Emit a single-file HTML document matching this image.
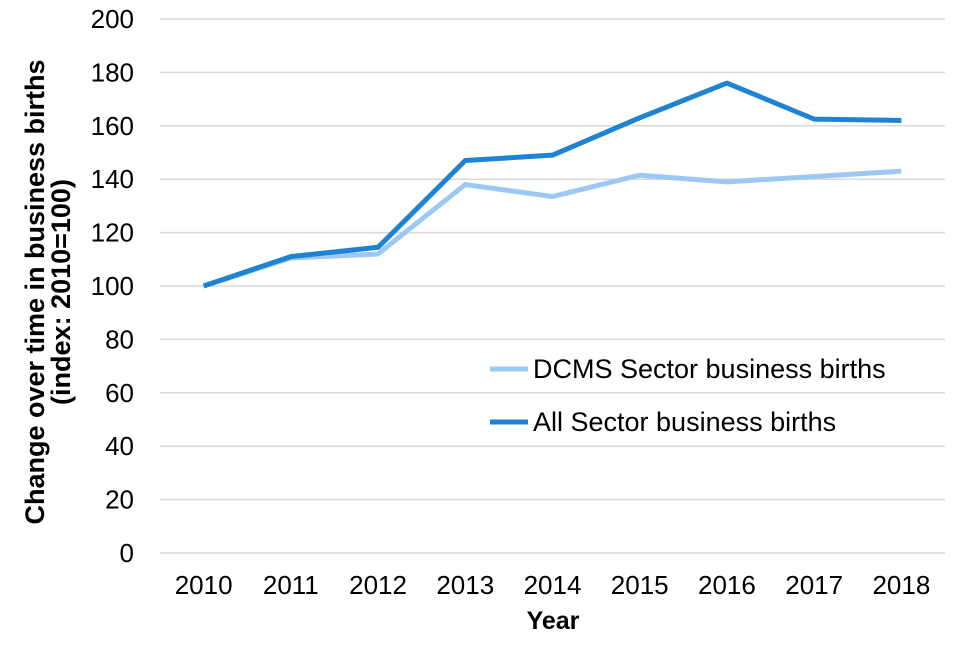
<!DOCTYPE html>
<html><head><meta charset="utf-8"><style>
body{margin:0;background:#fff}
svg text{font-family:"Liberation Sans",Arial,sans-serif;fill:#000}
</style></head><body>
<svg id="chart" width="960" height="640" xmlns="http://www.w3.org/2000/svg">
<g id="grid"></g><g id="yticks"></g><g id="xticks"></g><g id="lines"></g>
<text x="553" y="629" font-size="25" font-weight="bold" text-anchor="middle">Year</text>
<text transform="translate(44,292) rotate(-90)" font-size="27" font-weight="bold" text-anchor="middle"><tspan x="0" dy="0">Change over time in business births</tspan><tspan x="0" dy="26">(index: 2010=100)</tspan></text>
<g>
<line x1="490" y1="369" x2="528" y2="369" stroke="#9dc8f4" stroke-width="5"/>
<text x="533" y="378" font-size="27">DCMS Sector business births</text>
<line x1="490" y1="422" x2="528" y2="422" stroke="#1f83d4" stroke-width="5"/>
<text x="533" y="431" font-size="27">All Sector business births</text>
</g>
</svg>
<script>
const years=["2010","2011","2012","2013","2014","2015","2016","2017","2018"];
const dcms=[100,110.5,112,138,133.5,141.5,139,141,143];
const allSector=[100,111,114.5,147,149,163,176,162.5,162];
const yTicks=[0,20,40,60,80,100,120,140,160,180,200];
const NS="http://www.w3.org/2000/svg";
const x0=160,x1=945,yB=553,yT=19;
const step=(x1-x0)/years.length;
const xs=i=>x0+step*(i+0.5);
const ys=v=>yB-(v/200)*(yB-yT);
function mk(t,a,p){const e=document.createElementNS(NS,t);for(const k in a)e.setAttribute(k,a[k]);document.getElementById(p).appendChild(e);return e;}
yTicks.forEach(v=>{
 const l=mk('line',{x1:x0,x2:x1,y1:ys(v),y2:ys(v),stroke:'#d9d9d9','stroke-width':1.5},'grid');
 
 
 const t=mk('text',{x:134,y:ys(v)+9,'font-size':26,'text-anchor':'end'},'yticks');t.textContent=v;
 
 
});
years.forEach((y,i)=>{
 const t=mk('text',{x:xs(i),y:594,'font-size':26,'text-anchor':'middle'},'xticks');t.textContent=y;
 
 
});
[[dcms,'#9dc8f4','dcms-line'],[allSector,'#1f83d4','all-sector-line']].forEach(([d,c,n])=>{
 const p=mk('polyline',{points:d.map((v,i)=>xs(i)+','+ys(v)).join(' '),fill:'none',stroke:c,'stroke-width':5,'stroke-linejoin':'round'},'lines');
 
 
});
</script>
</body></html>
